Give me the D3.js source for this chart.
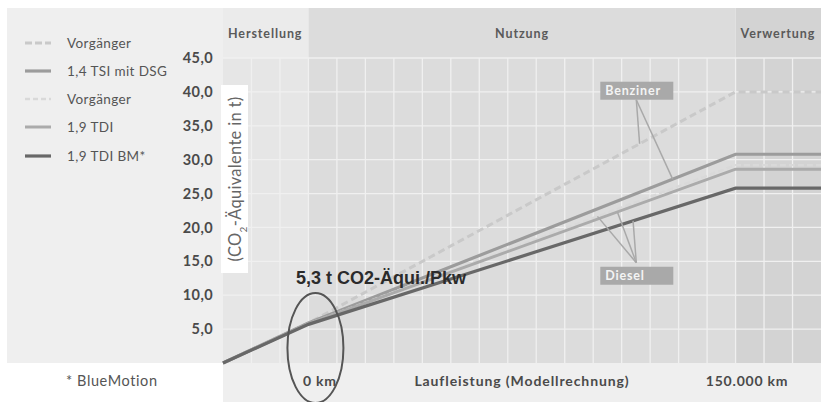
<!DOCTYPE html>
<html>
<head>
<meta charset="utf-8">
<script src="https://cdn.jsdelivr.net/npm/d3@7"></script>
<style>
  body { margin: 0; background: #fff; }
  svg { display: block; font-family: Lato, "Open Sans", sans-serif; }
</style>
</head>
<body>
<svg id="chart" width="826" height="402"></svg>
<script>
// phases of the life cycle (km bounds)
const phaseNames = ['Herstellung', 'Nutzung', 'Verwertung'];
const phaseBounds = [-30000, 0, 150000, 180000];

// km points of every line: start of production, 0 km, 150.000 km, end of recycling
const kmPoints = [-30000, 0, 150000, 180000];

// series (t CO2-equivalents)
const seriesNames = ['Vorgänger', '1,4 TSI mit DSG', 'Vorgänger', '1,9 TDI', '1,9 TDI BM*'];
const benzVorgaenger = [0, 5.9, 40.0, 40.0];
const tsiDsg = [0, 5.9, 30.8, 30.8];
const dieselVorgaenger = [0, 5.8, 29.2, 29.2];
const tdi = [0, 5.8, 28.6, 28.6];
const tdiBm = [0, 5.7, 25.8, 25.8];

const yTicks = [5, 10, 15, 20, 25, 30, 35, 40, 45];
const xTickValues = [0, 150000];
const xTickLabels = ['0 km', '150.000 km'];

const W = 826, H = 402;
const margin = { top: 8, left: 223, right: 5, bottom: 39 };
const plotTop = 58;

const svg = d3.select('#chart');

const x = d3.scaleLinear()
  .domain([phaseBounds[0], phaseBounds[3]])
  .range([margin.left, W - margin.right]);

const y = d3.scaleLinear()
  .domain([0, 45])
  .range([H - margin.bottom, plotTop]);

// backgrounds
svg.append('rect')
  .attr('x', 7).attr('y', margin.top)
  .attr('width', margin.left - 7).attr('height', y(0) - margin.top)
  .attr('fill', '#efefef');

svg.append('rect')
  .attr('x', margin.left).attr('y', y(0))
  .attr('width', x(phaseBounds[3]) - margin.left).attr('height', H - y(0))
  .attr('fill', '#efefef');

const phaseFill = ['#e6e6e6', '#dcdcdc', '#d3d3d3'];
const headerFill = ['#ebebeb', '#dcdcdc', '#d3d3d3'];

phaseNames.forEach((name, i) => {
  const x0 = x(phaseBounds[i]), x1 = x(phaseBounds[i + 1]);
  svg.append('rect')
    .attr('x', x0).attr('y', margin.top)
    .attr('width', x1 - x0).attr('height', plotTop - margin.top)
    .attr('fill', headerFill[i]);
  svg.append('rect')
    .attr('x', x0).attr('y', plotTop)
    .attr('width', x1 - x0).attr('height', y(0) - plotTop)
    .attr('fill', phaseFill[i]);
});

// header labels
const headerX = [x(phaseBounds[0]) + 5, (x(phaseBounds[1]) + x(phaseBounds[2])) / 2, x(phaseBounds[2]) + 5];
phaseNames.forEach((name, i) => {
  svg.append('text')
    .attr('x', headerX[i])
    .attr('y', 38)
    .attr('text-anchor', i === 1 ? 'middle' : 'start')
    .style('font-size', '12.5px')
    .style('font-weight', 700)
    .style('letter-spacing', '0.9px')
    .attr('fill', '#5a5a5a')
    .text(name);
});

// grid
const grid = svg.append('g').attr('stroke', '#f0f0f0').attr('stroke-width', 1.3);
d3.range(phaseBounds[0] + 10000, phaseBounds[3], 10000).forEach(k => {
  grid.append('line')
    .attr('x1', x(k)).attr('x2', x(k))
    .attr('y1', plotTop).attr('y2', y(0));
});
yTicks.forEach(v => {
  grid.append('line')
    .attr('x1', x(phaseBounds[0])).attr('x2', x(phaseBounds[3]))
    .attr('y1', y(v)).attr('y2', y(v));
});

// y axis
const yAxis = svg.append('g')
  .attr('transform', `translate(${margin.left - 10},0)`)
  .call(d3.axisLeft(y).tickValues(yTicks).tickSize(0).tickFormat(d => d3.format('.1f')(d).replace('.', ',')));
yAxis.select('.domain').remove();
yAxis.selectAll('text')
  .attr('x', 0)
  .style('font-family', 'Lato, sans-serif')
  .style('font-size', '14.5px')
  .style('font-weight', 700)
  .style('letter-spacing', '0.4px')
  .attr('fill', '#4a4a4a');

// y axis title with white backdrop, inside the production area
svg.append('rect')
  .attr('x', 221).attr('y', 85)
  .attr('width', 27).attr('height', 188)
  .attr('fill', '#ffffff');
const yTitle = svg.append('text')
  .attr('transform', `translate(241, ${(85 + 273) / 2}) rotate(-90)`)
  .attr('text-anchor', 'middle')
  .style('font-size', '16.5px')
  .style('letter-spacing', '0.3px')
  .attr('fill', '#666');
yTitle.append('tspan').text('(CO');
yTitle.append('tspan').attr('baseline-shift', 'sub').style('font-size', '10px').text('2');
yTitle.append('tspan').text('-Äquivalente in t)');

// x axis labels
const xAxis = svg.append('g')
  .attr('transform', `translate(0,${y(0)})`)
  .call(d3.axisBottom(x).tickValues(xTickValues).tickSize(0).tickFormat((d, i) => xTickLabels[i]));
xAxis.select('.domain').remove();
xAxis.selectAll('text')
  .attr('dx', 11)
  .attr('y', 13)
  .style('font-family', 'Lato, sans-serif')
  .style('font-size', '14px')
  .style('font-weight', 700)
  .style('letter-spacing', '0.8px')
  .attr('fill', '#4a4a4a');

svg.append('text')
  .attr('x', (x(0) + x(150000)) / 2)
  .attr('y', 386)
  .attr('text-anchor', 'middle')
  .style('font-size', '14px')
  .style('font-weight', 700)
  .style('letter-spacing', '0.9px')
  .attr('fill', '#4a4a4a')
  .text('Laufleistung (Modellrechnung)');

svg.append('text')
  .attr('x', 66).attr('y', 386)
  .style('font-size', '14.5px')
  .style('letter-spacing', '0.6px')
  .attr('fill', '#555')
  .text('* BlueMotion');

// lines
const series = [
  { name: seriesNames[0], values: benzVorgaenger, color: '#c9c9c9', width: 3, dash: '7,4' },
  { name: seriesNames[1], values: tsiDsg, color: '#9c9c9c', width: 3.2, dash: null },
  { name: seriesNames[2], values: dieselVorgaenger, color: '#d9d9d9', width: 2.4, dash: '6,3' },
  { name: seriesNames[3], values: tdi, color: '#ababab', width: 3, dash: null },
  { name: seriesNames[4], values: tdiBm, color: '#686868', width: 3.2, dash: null }
];

const line = d3.line()
  .x((d, i) => x(kmPoints[i]))
  .y(d => y(d));

svg.append('g')
  .selectAll('path')
  .data(series)
  .enter()
  .append('path')
  .attr('d', d => line(d.values))
  .attr('fill', 'none')
  .attr('stroke', d => d.color)
  .attr('stroke-width', d => d.width)
  .attr('stroke-dasharray', d => d.dash);

// value of a series at a km position (on the Nutzung segment)
const valueAt = (s, km) => s.values[1] + (s.values[2] - s.values[1]) * km / 150000;

// callouts
function callout(label, boxKm, boxVal, targets) {
  const bx = x(boxKm), by = y(boxVal);
  const g = svg.append('g');
  const ox = bx + 36;
  const oy = label === 'Benziner' ? by + 18 : by - 4;
  targets.forEach(t => {
    g.append('line')
      .attr('x1', ox).attr('y1', oy)
      .attr('x2', x(t.km)).attr('y2', y(valueAt(series[t.s], t.km)))
      .attr('stroke', '#a9a9a9')
      .attr('stroke-width', 1.5);
  });
  g.append('rect')
    .attr('x', bx).attr('y', by)
    .attr('width', 73).attr('height', 18)
    .attr('fill', '#a9a9a9');
  g.append('text')
    .attr('x', bx + 5).attr('y', by + 13.5)
    .style('font-size', '12.5px')
    .style('font-weight', 700)
    .style('letter-spacing', '0.8px')
    .attr('fill', '#f4f4f4')
    .text(label);
}

callout('Benziner', 102500, 41.5, [{ s: 0, km: 116300 }, { s: 1, km: 127900 }]);
callout('Diesel', 102500, 14.2, [{ s: 2, km: 101500 }, { s: 3, km: 108500 }, { s: 4, km: 114000 }]);

// legend
const legendY = [43, 71, 99, 127, 156];
const legend = svg.append('g');
series.forEach((s, i) => {
  legend.append('line')
    .attr('x1', 25).attr('x2', 51)
    .attr('y1', legendY[i]).attr('y2', legendY[i])
    .attr('stroke', s.color)
    .attr('stroke-width', s.width)
    .attr('stroke-dasharray', s.dash ? (i === 0 ? '7,3' : '5,3') : null);
  legend.append('text')
    .attr('x', 67).attr('y', legendY[i] + 5)
    .style('font-size', '13.5px')
    .style('letter-spacing', '0.4px')
    .attr('fill', '#555')
    .text(s.name);
});

// highlight of the production value
svg.append('ellipse')
  .attr('cx', x(0) + 7).attr('cy', 348)
  .attr('rx', 28).attr('ry', 55)
  .attr('fill', 'none')
  .attr('stroke', '#555')
  .attr('stroke-width', 2);

svg.append('text')
  .attr('x', 296).attr('y', 284)
  .style('font-family', '"Liberation Sans", Arial, sans-serif')
  .style('font-size', '18px')
  .style('font-weight', 700)
  .attr('fill', '#2b2b2b')
  .text('5,3 t CO2-Äqui./Pkw');
</script>
</body>
</html>
